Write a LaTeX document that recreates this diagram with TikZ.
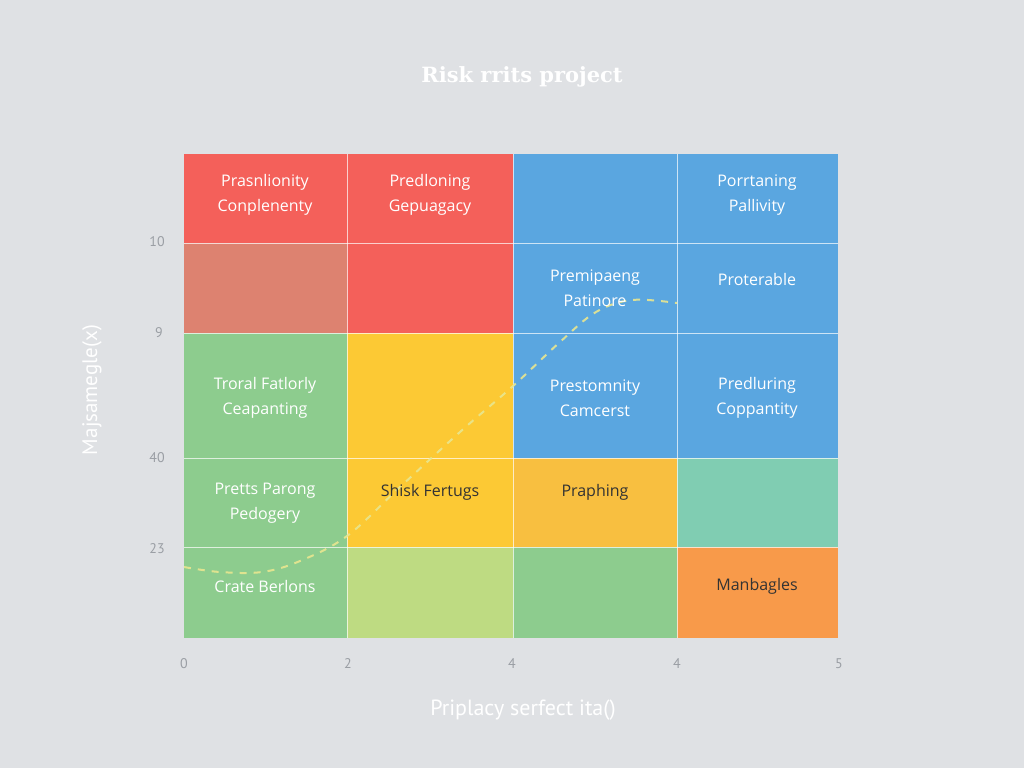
\documentclass[tikz,border=0pt]{standalone}
\usepackage{fontspec}
\setmainfont{Open Sans}
\newfontfamily\titlefont{DejaVu Serif}
\newfontfamily\axisfont{PT Sans}
\definecolor{bg}{HTML}{DFE1E4}
\definecolor{cred}{HTML}{F4605A}
\definecolor{csalmon}{HTML}{DD8270}
\definecolor{cblue}{HTML}{5AA6E0}
\definecolor{cgreen}{HTML}{8DCC8E}
\definecolor{cyellow}{HTML}{FCC934}
\definecolor{cyg}{HTML}{BEDB82}
\definecolor{camber}{HTML}{F8BF40}
\definecolor{cteal}{HTML}{80CDB2}
\definecolor{corange}{HTML}{F89A4A}
\definecolor{tick}{HTML}{9A9EA4}
\definecolor{curve}{HTML}{E8E690}
\begin{document}
\begin{tikzpicture}[x=1pt,y=-1pt,
  lbl/.style={font=\fontsize{16}{25}\selectfont,align=center,text=white},
  dlbl/.style={font=\fontsize{16}{25}\selectfont,align=center,text=black!80},
  ytick/.style={font=\axisfont\fontsize{14}{16}\selectfont,text=tick},
  xtick/.style={font=\axisfont\fontsize{14}{16}\selectfont,text=tick}]
\fill[bg] (0,0) rectangle (1024,768);
\useasboundingbox (0,0) rectangle (1024,768);
% title
\node[font=\titlefont\bfseries\fontsize{21}{24}\selectfont,text=white] (title) at (522,77) {Risk rrits project};
% cells: columns x: 184,347,513,677,838 ; rows y: 154,243,333,458,547,638
\fill[cred] (184,154) rectangle (347,243);
\fill[cred] (347,154) rectangle (513,243);
\fill[cblue] (513,154) rectangle (677,243);
\fill[cblue] (677,154) rectangle (838,243);
\fill[csalmon] (184,243) rectangle (347,333);
\fill[cred] (347,243) rectangle (513,333);
\fill[cblue] (513,243) rectangle (677,333);
\fill[cblue] (677,243) rectangle (838,333);
\fill[cgreen] (184,333) rectangle (347,458);
\fill[cyellow] (347,333) rectangle (513,458);
\fill[cblue] (513,333) rectangle (677,458);
\fill[cblue] (677,333) rectangle (838,458);
\fill[cgreen] (184,458) rectangle (347,547);
\fill[cyellow] (347,458) rectangle (513,547);
\fill[camber] (513,458) rectangle (677,547);
\fill[cteal] (677,458) rectangle (838,547);
\fill[cgreen] (184,547) rectangle (347,638);
\fill[cyg] (347,547) rectangle (513,638);
\fill[cgreen] (513,547) rectangle (677,638);
\fill[corange] (677,547) rectangle (838,638);
% grid lines
\foreach \x in {347,513,677} \draw[white,opacity=0.7,line width=0.9pt] (\x,154) -- (\x,638);
\foreach \y in {243,333,458,547} \draw[white,opacity=0.7,line width=0.9pt] (184,\y) -- (838,\y);
% dashed curve
\draw[curve,line width=2pt,dash pattern=on 7pt off 7pt,opacity=0.9]
  plot[smooth,tension=0.6] coordinates {(184,567) (220,572) (262,572) (300,561) (347,536) (400,487) (460,432) (513,386) (560,342) (596,312) (632,300) (677,303)};
% labels
\node[lbl] (c11) at (265,195) {Prasnlionity\\Conplenenty};
\node[lbl] (c12) at (430,195) {Predloning\\Gepuagacy};
\node[lbl] (c14) at (757,195) {Porrtaning\\Pallivity};
\node[lbl] (c23) at (595,288) {Premipaeng\\Patinore};
\node[lbl] (c24) at (757,279) {Proterable};
\node[lbl] (c31) at (265,398) {Troral Fatlorly\\Ceapanting};
\node[lbl] (c33) at (595,398) {Prestomnity\\Camcerst};
\node[lbl] (c34) at (757,398) {Predluring\\Coppantity};
\node[lbl] (c41) at (265,503) {Pretts Parong\\Pedogery};
\node[dlbl] (c42) at (430,492) {Shisk Fertugs};
\node[dlbl] (c43) at (595,492) {Praphing};
\node[lbl] (c51) at (265,586) {Crate Berlons};
\node[dlbl] (c54) at (757,586) {Manbagles};
% y ticks
\node[ytick] (y1) at (157,242) {10};
\node[ytick] (y2) at (159,333) {9};
\node[ytick] (y3) at (157,458) {40};
\node[ytick] (y4) at (157,549) {23};
% x ticks
\node[xtick] (x0) at (184,664) {0};
\node[xtick] (x1) at (348,664) {2};
\node[xtick] (x2) at (512,664) {4};
\node[xtick] (x3) at (677,664) {4};
\node[xtick] (x4) at (839,664) {5};
% axis titles
\node[font=\axisfont\fontsize{22}{24}\selectfont,text=white] (xlab) at (523,710) {Priplacy serfect ita()};
\node[font=\axisfont\fontsize{21}{23}\selectfont,text=white,rotate=90] (ylab) at (92,390) {Majsamegle(x)};
\end{tikzpicture}
\end{document}
